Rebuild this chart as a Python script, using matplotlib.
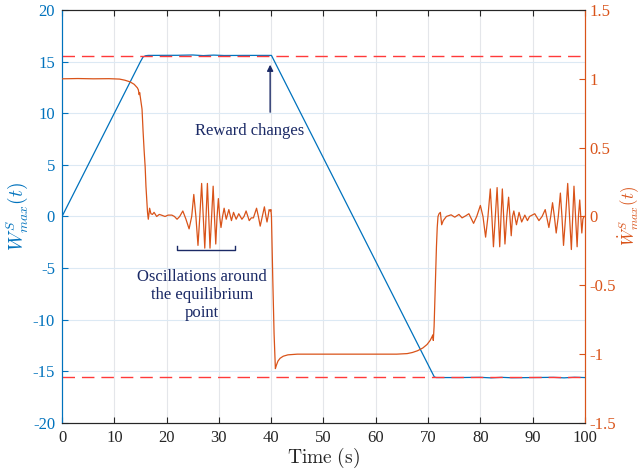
import matplotlib
matplotlib.use("Agg")
import matplotlib.pyplot as plt

plt.rcParams['font.family'] = ['Liberation Serif', 'DejaVu Serif']
plt.rcParams['mathtext.fontset'] = 'cm'
plt.rcParams['axes.unicode_minus'] = False

# Controller output W(t): ramp up, hold, ramp down, hold
w_t = [0, 15.0, 15.5, 16.0, 16.5, 22, 25, 27, 29, 31, 35, 40.05,
       71.2, 71.6, 76, 80, 82, 84, 86, 90, 94, 96, 98, 100]
w_v = [0, 15.0, 15.45, 15.57, 15.6, 15.61, 15.64, 15.58, 15.63, 15.59, 15.6, 15.6,
       -15.55, -15.6, -15.6, -15.58, -15.63, -15.58, -15.62, -15.6, -15.58, -15.63, -15.57, -15.6]

# Time derivative dW/dt
dw_t = [0, 3, 6, 9, 11, 12, 13, 13.8, 14.4, 14.6, 14.75, 14.85, 15.0, 15.3, 15.5, 15.7,
        15.9, 16.05, 16.2, 16.35, 16.5, 16.75, 17.0, 17.3, 17.6, 18.1, 18.6, 19.0, 19.7,
        20.3, 21.0, 21.5, 22.0, 22.5, 23.1, 23.7, 24.3, 24.8, 25.2, 25.6, 26.0, 26.35,
        26.7, 27.0, 27.3, 27.55, 27.8, 28.05, 28.3, 28.6, 28.9, 29.15, 29.4, 29.65, 29.9,
        30.15, 30.4, 30.7, 31.0, 31.4, 31.9, 32.4, 32.8, 33.3, 33.8, 34.4, 34.8, 35.2,
        35.8, 36.2, 36.6, 37.2, 37.55, 37.9, 38.3, 38.7, 39.0, 39.2, 39.4, 39.6, 39.8,
        39.95, 40.05, 40.3, 40.55, 40.8, 41.0, 41.3, 41.7, 42.3, 43.2, 45, 50, 55, 60,
        64, 66, 67, 68, 69, 69.8, 70.4, 70.8, 70.9, 71.0, 71.15, 71.3, 71.45, 71.6,
        71.75, 71.9, 72.1, 72.35, 72.6, 72.9, 73.5, 74.4, 75.1, 75.9, 76.5, 77.2, 77.8,
        78.7, 79.3, 80.0, 80.5, 81.0, 81.45, 81.9, 82.2, 82.5, 82.85, 83.2, 83.45, 83.7,
        83.95, 84.2, 84.45, 84.7, 85.05, 85.4, 85.65, 85.9, 86.15, 86.4, 86.9, 87.4,
        87.9, 88.5, 89.0, 89.4, 90.4, 91.2, 91.8, 92.4, 93.1, 93.45, 93.8, 94.15, 94.5,
        94.9, 95.3, 95.6, 95.9, 96.3, 96.7, 97.05, 97.4, 97.65, 97.9, 98.2, 98.5, 98.75,
        99.0, 99.2, 99.4, 99.6, 99.8, 100]
dw_v = [1.0, 1.002, 1.0, 1.001, 0.998, 0.99, 0.978, 0.96, 0.935, 0.92, 0.885, 0.9, 0.86,
        0.78, 0.62, 0.48, 0.36, 0.22, 0.12, 0.03, -0.02, 0.06, 0.02, 0.015, 0.03, 0.0,
        0.015, 0.01, 0.0, 0.01, 0.01, 0.0, -0.02, 0.0, 0.04, -0.02, -0.09, 0.0, 0.16, 0.0,
        -0.21, 0.0, 0.24, 0.0, -0.23, 0.0, 0.24, 0.0, -0.23, 0.0, 0.22, 0.0, -0.2, 0.0,
        0.13, 0.0, -0.08, 0.0, 0.06, -0.02, 0.05, -0.03, 0.03, -0.02, 0.02, -0.02, 0.0,
        0.04, -0.03, -0.01, -0.01, 0.06, 0.0, -0.07, 0.0, 0.07, 0.0, -0.04, 0.0, 0.05,
        0.04, 0.05, 0.0, -0.45, -0.85, -1.105, -1.08, -1.05, -1.03, -1.015, -1.005, -1.0,
        -1.0, -1.0, -1.0, -1.0, -0.996, -0.988, -0.975, -0.955, -0.93, -0.9, -0.87, -0.86,
        -0.9, -0.8, -0.6, -0.4, -0.22, -0.08, 0.0, 0.02, 0.03, -0.06, -0.03, 0.0, 0.012,
        -0.005, 0.015, -0.01, 0.005, 0.02, -0.05, 0.0, 0.08, 0.0, -0.15, 0.0, 0.2, 0.0,
        -0.22, 0.0, 0.21, 0.0, -0.22, 0.0, 0.2, 0.0, -0.2, 0.0, 0.14, 0.0, -0.14, 0.0,
        0.04, -0.06, 0.03, -0.04, 0.01, -0.03, 0.0, 0.02, -0.03, 0.0, 0.05, -0.08, 0.0,
        0.1, 0.0, -0.12, 0.0, 0.17, 0.0, -0.21, 0.0, 0.24, 0.0, -0.24, 0.0, 0.22, 0.0,
        -0.22, 0.0, 0.12, 0.0, -0.12, -0.02, 0.0, 0.0]

# Saturation limits
w_limit = 15.5

x_ticks = list(range(0, 101, 10))
left_ticks = list(range(-20, 21, 5))
right_ticks = [-1.5, -1.0, -0.5, 0, 0.5, 1.0, 1.5]
right_tick_labels = ['-1.5', '-1', '-0.5', '0', '0.5', '1', '1.5']

BLUE = '#0072BD'
ORANGE = '#D95319'
NAVY = '#1B2A66'

fig = plt.figure(figsize=(6.4, 4.75), dpi=100)
ax = fig.add_axes([0.0969, 0.1095, 0.8171, 0.8695])
ax2 = ax.twinx()

ax.set_xlim(0, 100)
ax.set_ylim(-20, 20)
ax2.set_ylim(-1.5, 1.5)

# grid
for xv in x_ticks[1:-1]:
    ax.axvline(xv, color='#e4e6ea', lw=0.8, zorder=0)
for yv in left_ticks[1:-1]:
    ax.axhline(yv, color='#dce9f4', lw=0.8, zorder=0)

ax.plot(w_t, w_v, color=BLUE, lw=0.9, zorder=3)
ax.axhline(w_limit, color='#ff3a3a', lw=1.0, dashes=(9, 5), zorder=4)
ax.axhline(-w_limit, color='#ff3a3a', lw=1.0, dashes=(9, 5), zorder=4)
ax2.plot(dw_t, dw_v, color=ORANGE, lw=0.9, zorder=3)

# ticks
ax.set_xticks(x_ticks)
ax.set_yticks(left_ticks)
ax2.set_yticks(right_ticks)
ax2.set_yticklabels(right_tick_labels)
ax.tick_params(axis='x', direction='in', top=True, length=4, width=0.8,
               colors='#262626', labelsize=12, pad=5)
ax.tick_params(axis='y', direction='in', length=4, width=0.8,
               colors=BLUE, labelsize=12, pad=5)
ax2.tick_params(axis='y', direction='in', length=4, width=0.8,
                colors=ORANGE, labelsize=12, pad=3)

for a in (ax, ax2):
    a.spines['left'].set_color(BLUE)
    a.spines['right'].set_color(ORANGE)
    a.spines['top'].set_color('#262626')
    a.spines['bottom'].set_color('#262626')
    for s in a.spines.values():
        s.set_linewidth(0.8)

ax.set_xlabel(r'$\mathrm{Time\ (s)}$', fontsize=14, color='#262626', labelpad=0)
ax.set_ylabel(r'$W^{S}_{max}(t)$', fontsize=14, color=BLUE, labelpad=2)
ax2.set_ylabel(r'$\dot{W}^{S}_{max}(t)$', fontsize=12, color=ORANGE, labelpad=0)

# annotations
ax.annotate('', xy=(39.8, 14.7), xytext=(39.8, 10.1),
            arrowprops=dict(arrowstyle='-|>', color=NAVY, lw=1.0,
                            mutation_scale=9, shrinkA=0, shrinkB=0), zorder=6)
ax.text(35.9, 8.3, 'Reward changes', color=NAVY, fontsize=12,
        ha='center', va='center', zorder=6)

bx = [22.05, 22.05, 33.1, 33.1]
by = [-2.85, -3.25, -3.25, -2.85]
ax.plot(bx, by, color=NAVY, lw=1.0, zorder=6)
ax.text(26.7, -7.6, 'Oscillations around\nthe equilibrium\npoint', color=NAVY,
        fontsize=12, ha='center', va='center', linespacing=1.2, zorder=6)

fig.savefig('out.png', dpi=100)
